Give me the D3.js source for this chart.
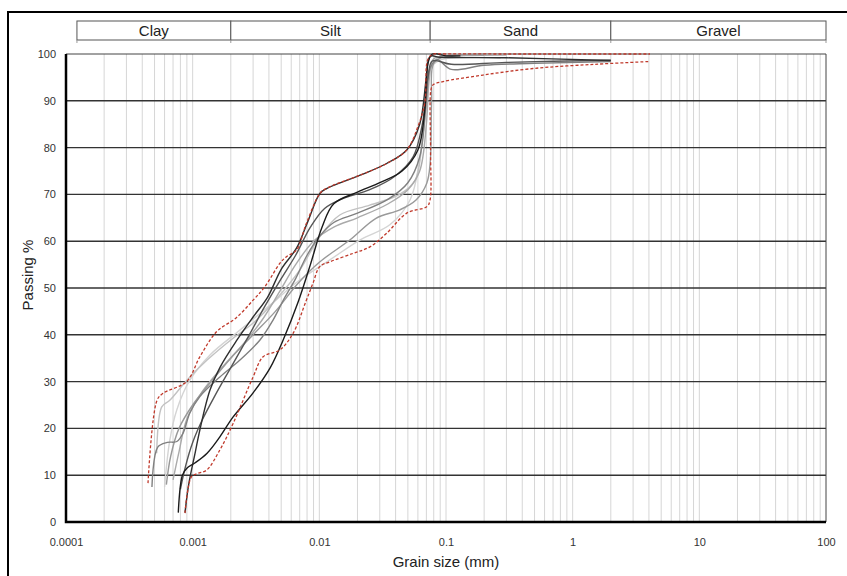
<!DOCTYPE html>
<html>
<head>
<meta charset="utf-8">
<script src="https://cdn.jsdelivr.net/npm/d3@7"></script>
<style>
  body { margin: 0; background: #fff; }
  svg { display: block; font-family: "Liberation Sans", Arial, sans-serif; }
</style>
</head>
<body>
<svg id="chart"></svg>
<script>
// grain size (mm) / passing (%) for each sample
var sampleA = [[0.00077,2],[0.00083,10],[0.0009,11.5],[0.00104,12.6],[0.0013,14.7],[0.00164,18.2],[0.00208,22.4],[0.003,27.6],[0.0041,33],[0.0052,39],[0.0068,47],[0.0085,55],[0.0105,63],[0.013,68],[0.02,70.5],[0.03,72.5],[0.045,75],[0.06,79.5],[0.068,88],[0.072,98],[0.078,100],[0.1,99.6],[0.13,99.6]];
var sampleB = [[0.00087,2],[0.00093,8],[0.00105,15],[0.00114,19.7],[0.00137,28.2],[0.00164,33],[0.00224,38.9],[0.003,43.8],[0.0039,48],[0.005,54],[0.0066,58.5],[0.008,63.8],[0.0101,70.2],[0.0115,71.3],[0.021,74.1],[0.034,76.6],[0.049,79.5],[0.062,85],[0.07,95],[0.075,99.5],[0.09,99.3],[0.3,99.2],[2,98.6]];
var sampleC = [[0.0008,7],[0.00088,12],[0.001,17],[0.0012,22],[0.0015,27],[0.002,33],[0.0028,40],[0.0037,46],[0.005,52],[0.0065,57],[0.0085,63],[0.011,67],[0.015,69],[0.025,71],[0.04,74],[0.055,78],[0.065,85],[0.072,95],[0.078,98.5],[0.11,97.8],[0.3,98.2],[2,98.7]];
var sampleD = [[0.000477,7.5],[0.00053,16],[0.00063,17],[0.00075,17.2],[0.00084,19],[0.00095,23.3],[0.00114,26.8],[0.00164,31],[0.00236,34.6],[0.0034,38.9],[0.0043,43.1],[0.0052,47.4],[0.0065,52],[0.008,57],[0.01,61],[0.013,64],[0.02,66],[0.035,69],[0.05,72.5],[0.062,78],[0.07,90],[0.075,97],[0.085,98.8],[0.11,96.7],[0.2,97.6],[0.5,98],[2,98.4]];
var sampleE = [[0.00062,8],[0.00067,14],[0.00078,20],[0.001,25],[0.0014,30],[0.002,35],[0.003,40],[0.0045,45],[0.0068,51],[0.01,55.5],[0.0175,60.3],[0.028,64.9],[0.0432,66.7],[0.058,68.8],[0.0705,72.4],[0.075,76.7],[0.077,90],[0.08,98],[0.1,99.5],[0.2,99.8]];
var sampleF = [[0.00052,14.7],[0.00057,24.6],[0.00066,26],[0.0009,30.3],[0.0013,34.6],[0.002,38.9],[0.003,42.5],[0.0045,47.4],[0.007,53.8],[0.0101,61],[0.0145,65.6],[0.025,67.7],[0.043,70],[0.057,73],[0.065,81.6],[0.07,90],[0.075,96.6],[0.09,99.6],[0.19,99.8]];
var sampleG = [[0.0006,7.5],[0.00066,17.5],[0.00075,24],[0.00095,30.3],[0.00137,35.7],[0.00236,41],[0.0041,46.4],[0.007,51.7],[0.0121,56],[0.021,60.3],[0.036,63.5],[0.052,68.8],[0.062,77.4],[0.068,88],[0.074,96.6],[0.09,98.7],[0.27,99.1]];
var sampleH = [[0.0007,9],[0.00078,15],[0.0009,22],[0.0012,28],[0.0017,33],[0.0025,38],[0.0035,43],[0.0048,49],[0.0065,55],[0.009,60],[0.013,63],[0.02,65],[0.035,68],[0.05,71],[0.062,75],[0.07,85],[0.074,95],[0.08,99],[0.12,99.6],[0.3,99.8]];
var upperEnvelope = [[0.000444,8.3],[0.000523,26],[0.000583,27.5],[0.000896,30],[0.00114,35.3],[0.00155,40.7],[0.0022,43.6],[0.003,47.4],[0.00372,50.3],[0.00489,55.3],[0.0055,56.7],[0.0066,58.1],[0.0079,63.8],[0.0101,70.2],[0.0114,71.3],[0.0209,74.1],[0.034,76.6],[0.049,79.5],[0.06,84.5],[0.068,89.5],[0.0716,98.7],[0.078,99.9],[0.1,100],[0.3,100],[1,100],[4.08,100]];
var lowerEnvelope = [[0.00087,1.9],[0.00098,9.7],[0.0011,10.4],[0.00129,11.1],[0.00164,15.4],[0.00209,21.1],[0.003,31],[0.0036,35.3],[0.00489,36.8],[0.0062,40.3],[0.0079,47.4],[0.0089,51],[0.0101,54.6],[0.0121,55.6],[0.0185,57.4],[0.0251,58.8],[0.034,61.7],[0.049,66],[0.0708,67.4],[0.0748,68.8],[0.0755,79.5],[0.076,92.3],[0.0789,93.4],[0.0946,94.1],[0.196,95.5],[0.486,96.9],[1.5,97.8],[4.08,98.4]];

var samples = [sampleG, sampleF, sampleH, sampleE, sampleD, sampleC, sampleB, sampleA];
var sampleColors = ["#d4d4d4", "#c2c2c2", "#aaaaaa", "#999999", "#808080", "#555555", "#2e2e2e", "#1a1a1a"];
var envelopes = [upperEnvelope, lowerEnvelope];

var xTicks = [0.0001, 0.001, 0.01, 0.1, 1, 10, 100];
var xTickLabels = ["0.0001", "0.001", "0.01", "0.1", "1", "10", "100"];
var yTicks = [0, 10, 20, 30, 40, 50, 60, 70, 80, 90, 100];
var classNames = ["Clay", "Silt", "Sand", "Gravel"];
var classBounds = [0.000122, 0.002, 0.075, 2, 100];

var width = 847, height = 576;
var margin = { top: 54, right: 21, bottom: 54, left: 66 };
var plotW = width - margin.left - margin.right,
  plotH = height - margin.top - margin.bottom;

var svg = d3.select("#chart")
  .attr("width", width)
  .attr("height", height);

// outer frame (runs off the right and bottom edge)
svg.append("rect")
  .attr("x", 8)
  .attr("y", 12)
  .attr("width", 900)
  .attr("height", 700)
  .style("fill", "none")
  .style("stroke", "#000")
  .style("stroke-width", 2);

var canvas = svg.append("g")
  .attr("transform", "translate(" + margin.left + "," + margin.top + ")");

var xScale = d3.scaleLog()
  .domain([0.0001, 100])
  .range([0, plotW]);

var yScale = d3.scaleLinear()
  .domain([0, 100])
  .range([plotH, 0]);

// minor vertical grid: 1..9 in every decade
var minor = [];
for (var e = -4; e < 2; e++) {
  for (var m = 2; m <= 9; m++) minor.push(m * Math.pow(10, e));
}
minor = minor.concat(xTicks.slice(1, -1));

canvas.selectAll(".vgrid")
  .data(minor)
  .enter().append("line")
  .attr("class", "vgrid")
  .attr("x1", function(d) { return xScale(d); })
  .attr("x2", function(d) { return xScale(d); })
  .attr("y1", 0)
  .attr("y2", plotH)
  .style("stroke", "#d6d6d6")
  .style("stroke-width", 1);

canvas.selectAll(".hgrid")
  .data(yTicks.slice(1, -1))
  .enter().append("line")
  .attr("class", "hgrid")
  .attr("x1", 0)
  .attr("x2", plotW)
  .attr("y1", function(d) { return yScale(d); })
  .attr("y2", function(d) { return yScale(d); })
  .style("stroke", "#333")
  .style("stroke-width", 1.4);

// thin top / right border of plot
canvas.append("path")
  .attr("d", "M0,0H" + plotW + "V" + plotH)
  .style("fill", "none")
  .style("stroke", "#444")
  .style("stroke-width", 1);

var line = d3.line()
  .x(function(d) { return xScale(d[0]); })
  .y(function(d) { return yScale(d[1]); })
  .curve(d3.curveCatmullRom.alpha(0.5));

canvas.selectAll(".sample")
  .data(samples)
  .enter().append("path")
  .attr("class", "sample")
  .attr("d", line)
  .style("fill", "none")
  .style("stroke", function(d, i) { return sampleColors[i]; })
  .style("stroke-width", 1.4);

canvas.selectAll(".envelope")
  .data(envelopes)
  .enter().append("path")
  .attr("class", "envelope")
  .attr("d", line)
  .style("fill", "none")
  .style("stroke", "#c0392b")
  .style("stroke-width", 1.3)
  .style("stroke-dasharray", "3,2");

// axes
var xAxis = d3.axisBottom(xScale)
  .tickValues(xTicks)
  .tickFormat(function(d, i) { return xTickLabels[i]; })
  .tickSize(0)
  .tickPadding(16);

var yAxis = d3.axisLeft(yScale)
  .tickValues(yTicks)
  .tickSize(0)
  .tickPadding(10);

canvas.append("g")
  .attr("class", "x axis")
  .attr("transform", "translate(0," + plotH + ")")
  .call(xAxis)
  .call(function(g) { g.select(".domain").remove(); })
  .selectAll("text")
  .attr("fill", "#333")
  .style("font-size", "11px");

canvas.append("g")
  .attr("class", "y axis")
  .call(yAxis)
  .call(function(g) { g.select(".domain").remove(); })
  .selectAll("text")
  .attr("fill", "#333")
  .style("font-size", "11px");

canvas.append("path")
  .attr("d", "M0,0V" + plotH + "H" + plotW)
  .style("fill", "none")
  .style("stroke", "#000")
  .style("stroke-width", 2.5);

svg.append("text")
  .attr("x", margin.left + plotW / 2)
  .attr("y", 567)
  .style("font-size", "15px")
  .style("fill", "#222")
  .style("text-anchor", "middle")
  .text("Grain size (mm)");

svg.append("text")
  .attr("transform", "translate(33,275) rotate(-90)")
  .style("font-size", "15px")
  .style("fill", "#222")
  .style("text-anchor", "middle")
  .text("Passing %");

// soil class band on top
var band = svg.append("g")
  .attr("transform", "translate(" + margin.left + ",21)");

band.selectAll(".cls")
  .data(classNames)
  .enter().append("rect")
  .attr("class", "cls")
  .attr("x", function(d, i) { return xScale(classBounds[i]); })
  .attr("y", 0)
  .attr("width", function(d, i) { return xScale(classBounds[i + 1]) - xScale(classBounds[i]); })
  .attr("height", 19)
  .style("fill", "#fff")
  .style("stroke", "#555")
  .style("stroke-width", 1);

band.selectAll(".clsTick")
  .data(classBounds)
  .enter().append("line")
  .attr("class", "clsTick")
  .attr("x1", function(d) { return xScale(d); })
  .attr("x2", function(d) { return xScale(d); })
  .attr("y1", 19)
  .attr("y2", 22)
  .style("stroke", "#999")
  .style("stroke-width", 1);

band.selectAll(".clsLabel")
  .data(classNames)
  .enter().append("text")
  .attr("class", "clsLabel")
  .attr("x", function(d, i) { return (xScale(classBounds[i]) + xScale(classBounds[i + 1])) / 2; })
  .attr("y", 15)
  .style("font-size", "15px")
  .style("fill", "#222")
  .style("text-anchor", "middle")
  .text(function(d) { return d; });
</script>
</body>
</html>
